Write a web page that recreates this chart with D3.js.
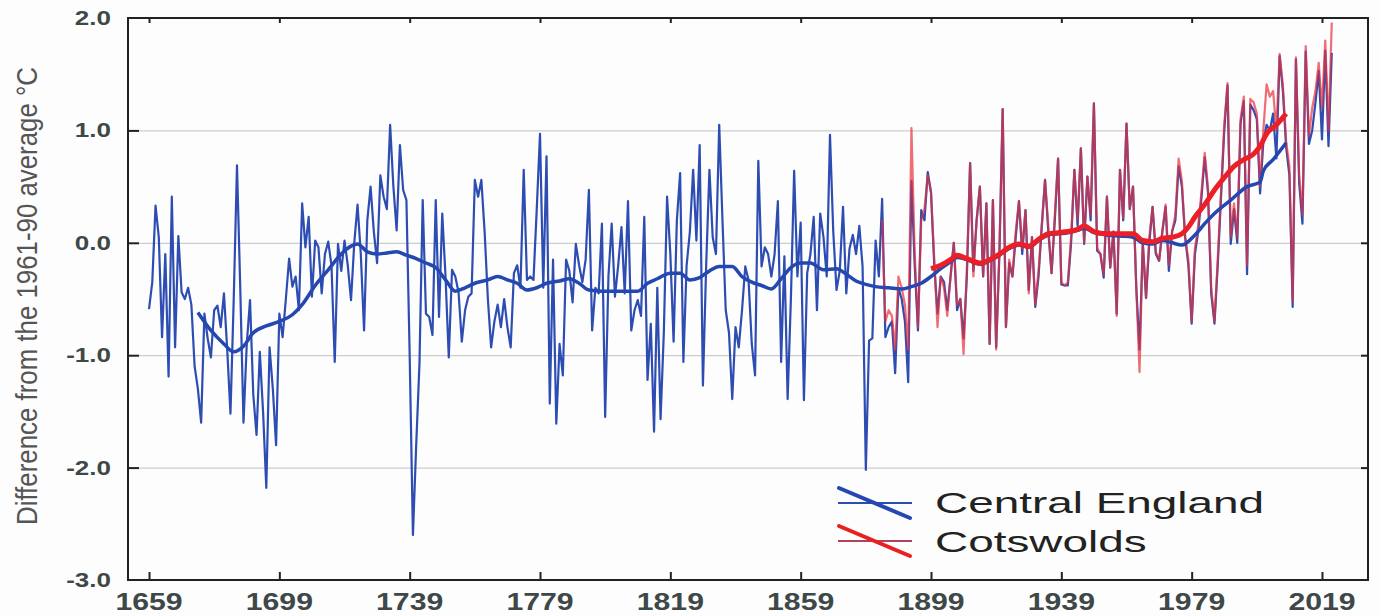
<!DOCTYPE html>
<html>
<head>
<meta charset="utf-8">
<script src="https://cdn.jsdelivr.net/npm/d3@7"></script>
<style>
  body { margin: 0; background: #fff; }
  text { font-family: "Liberation Sans", Arial, sans-serif; }
</style>
</head>
<body>
<div class="chart"></div>
<script>
// annual anomalies, difference from the 1961-90 average (degC)
const ceFirstYear = 1659;
const centralEngland = [
  -0.59,
  -0.35, 0.33, 0.05, -0.84, -0.10, -1.19, 0.41, -0.93, 0.06, -0.44,
  -0.50, -0.40, -0.55, -1.10, -1.30, -1.60, -0.63, -0.85, -1.02, -0.60,
  -0.56, -0.75, -0.45, -0.95, -1.52, -0.50, 0.69, -0.40, -1.60, -0.90,
  -0.51, -1.35, -1.71, -0.97, -1.50, -2.18, -0.93, -1.30, -1.80, -0.63,
  -0.84, -0.50, -0.14, -0.39, -0.30, -0.60, 0.35, -0.04, 0.23, -0.48,
  0.02, -0.04, -0.45, -0.10, 0.01, -0.20, -1.06, -0.01, -0.25, 0.02,
  -0.20, -0.51, 0.00, 0.34, -0.10, -0.78, 0.20, 0.50, 0.10, -0.18,
  0.60, 0.41, 0.30, 1.05, 0.50, 0.11, 0.87, 0.47, 0.38, -1.00,
  -2.60, -1.80, -1.08, 0.38, -0.63, -0.66, -0.82, 0.38, -0.66, 0.26,
  -0.30, -1.02, -0.24, -0.30, -0.44, -0.88, -0.60, -0.48, -0.45, 0.56,
  0.41, 0.56, 0.10, -0.50, -0.93, -0.70, -0.55, -0.75, -0.50, -0.75,
  -0.93, -0.27, -0.20, -0.40, 0.65, -0.33, -0.30, -0.33, 0.30, 0.97,
  -0.40, 0.77, -1.43, -0.15, -1.61, -0.90, -1.18, -0.15, -0.25, -0.53,
  -0.01, -0.20, -0.35, -0.15, 0.47, -0.78, -0.40, -0.45, 0.17, -1.55,
  -0.30, 0.17, -0.48, -0.20, 0.14, -0.45, 0.37, -0.78, -0.60, -0.51,
  -0.65, 0.23, -1.22, -0.72, -1.68, -0.40, -1.57, -0.80, 0.41, -0.10,
  -0.88, 0.20, 0.62, -1.06, -0.20, 0.10, 0.65, 0.02, 0.87, -1.27,
  -0.20, 0.65, 0.05, -0.10, 1.05, 0.20, -0.60, -0.80, -1.39, -0.75,
  -0.93, -0.60, -0.21, -0.33, -0.90, -1.18, 0.73, -0.21, -0.04, -0.10,
  -0.30, -0.10, 0.37, -1.06, -0.12, -1.39, -0.50, 0.64, -0.30, 0.18,
  -1.40, -0.27, -0.10, 0.23, -0.60, 0.26, 0.05, -0.30, 0.96, 0.10,
  -0.42, -0.25, 0.32, -0.45, -0.05, 0.07, -0.10, 0.15, -0.21, -2.02,
  -0.87, -0.85, 0.02, -0.30, 0.39, -0.84, -0.75, -0.70, -1.16, -0.40,
  -0.50, -0.70, -1.24, 0.55, -0.20, -0.78, 0.29, 0.20, 0.63, 0.45,
  -0.20, -0.63, -0.30, -0.35, -0.60, -0.30, 0.00, -0.60, -0.50, -0.85,
  -0.30, 0.71, -0.25, 0.20, 0.50, -0.30, 0.35, -0.90, 0.38, -0.93,
  -0.10, 1.19, -0.75, -0.18, -0.30, 0.05, 0.37, -0.10, 0.29, -0.42,
  0.05, -0.57, -0.30, 0.15, 0.56, 0.10, -0.27, 0.20, 0.75, -0.37,
  -0.38, -0.38, 0.00, 0.65, 0.15, 0.84, -0.01, 0.59, 0.20, 1.24,
  -0.07, -0.10, -0.31, 0.41, -0.22, 0.10, -0.63, 0.65, 0.20, 1.06,
  0.30, 0.50, -0.40, -0.95, 0.00, -0.49, 0.00, 0.32, -0.10, -0.16,
  0.10, 0.32, -0.25, 0.10, 0.20, 0.68, 0.50, 0.05, -0.20, -0.72,
  -0.10, 0.10, 0.40, 0.76, 0.45, -0.45, -0.72, -0.20, 0.40, 1.00,
  1.40, -0.01, 0.30, 0.00, 1.06, 1.26, -0.28, 1.23, 1.18, 1.10,
  0.44, 0.90, 1.05, 1.00, 1.15, 0.75, 1.66, 1.35, 0.85, 0.60,
  -0.57, 1.63, 0.53, 0.17, 1.70, 0.88, 1.00, 1.25, 1.53, 0.92,
  1.71, 0.86, 1.69
];

const cotsFirstYear = 1884;
const cotswolds = [
  0.20, -0.70, -0.60, -0.65, -0.95, -0.30,
  -0.40, -0.55, -0.95, 1.02, -0.10, -0.75, 0.20, 0.30, 0.60, 0.45,
  -0.15, -0.75, -0.30, -0.40, -0.65, -0.30, 0.00, -0.55, -0.50, -0.99,
  -0.25, 0.71, -0.30, 0.20, 0.50, -0.30, 0.35, -0.90, 0.38, -0.95,
  -0.05, 1.19, -0.75, -0.15, -0.30, 0.10, 0.37, -0.05, 0.29, -0.45,
  0.05, -0.55, -0.25, 0.15, 0.56, 0.15, -0.27, 0.25, 0.75, -0.35,
  -0.38, -0.35, 0.05, 0.65, 0.20, 0.84, 0.00, 0.59, 0.25, 1.24,
  -0.05, -0.10, -0.28, 0.41, -0.22, 0.10, -0.65, 0.65, 0.22, 1.06,
  0.30, 0.50, -0.40, -1.15, 0.00, -0.49, 0.05, 0.32, -0.08, -0.16,
  0.10, 0.34, -0.20, 0.10, 0.25, 0.75, 0.55, 0.05, -0.15, -0.70,
  -0.05, 0.15, 0.45, 0.80, 0.50, -0.40, -0.70, -0.15, 0.45, 1.05,
  1.42, 0.05, 0.35, 0.05, 1.10, 1.30, -0.20, 1.28, 1.25, 1.15,
  0.50, 1.00, 1.41, 1.30, 1.35, 1.00, 1.68, 1.40, 0.90, 0.68,
  -0.52, 1.65, 0.60, 0.25, 1.75, 0.95, 1.20, 1.35, 1.60, 1.20,
  1.80, 1.00, 1.96
];

// smoothed curves: [year, anomaly]
const ceSmooth = [
  [1674, -0.62], [1678, -0.78], [1682, -0.90], [1685, -0.97], [1688, -0.92],
  [1691, -0.80], [1695, -0.74], [1699, -0.70], [1703, -0.64], [1706, -0.55],
  [1710, -0.38], [1714, -0.24], [1718, -0.10], [1721, -0.03], [1723, -0.01],
  [1726, -0.08], [1729, -0.10], [1732, -0.09], [1735, -0.08], [1738, -0.11],
  [1741, -0.14], [1744, -0.18], [1747, -0.22], [1750, -0.33], [1753, -0.43],
  [1756, -0.40], [1759, -0.36], [1763, -0.33], [1766, -0.30], [1769, -0.33],
  [1772, -0.36], [1775, -0.42], [1778, -0.40], [1781, -0.36], [1785, -0.34],
  [1788, -0.32], [1791, -0.36], [1794, -0.42], [1798, -0.43], [1802, -0.43],
  [1806, -0.43], [1809, -0.43], [1812, -0.36], [1815, -0.32], [1819, -0.27],
  [1822, -0.27], [1825, -0.33], [1828, -0.31], [1831, -0.25], [1834, -0.21],
  [1838, -0.21], [1841, -0.30], [1844, -0.35], [1847, -0.38], [1850, -0.41],
  [1853, -0.32], [1856, -0.22], [1859, -0.18], [1862, -0.18], [1866, -0.24],
  [1870, -0.23], [1873, -0.28], [1876, -0.34], [1879, -0.37], [1882, -0.39],
  [1886, -0.40], [1890, -0.41], [1893, -0.39], [1896, -0.36], [1899, -0.30],
  [1902, -0.23], [1905, -0.17], [1907, -0.13], [1910, -0.15], [1914, -0.19],
  [1917, -0.16], [1920, -0.11], [1923, -0.05], [1926, -0.02], [1929, -0.04],
  [1932, 0.02], [1935, 0.07], [1938, 0.08], [1941, 0.09], [1944, 0.11],
  [1946, 0.13], [1949, 0.09], [1953, 0.07], [1957, 0.06], [1961, 0.05],
  [1964, 0.00], [1967, -0.01], [1970, 0.02], [1973, 0.00], [1976, -0.02],
  [1980, 0.07], [1983, 0.17], [1986, 0.26], [1991, 0.38], [1996, 0.50],
  [2000, 0.54], [2001, 0.64], [2004, 0.74], [2008, 0.89]
];
const cotsSmooth = [
  [1899, -0.23], [1902, -0.20], [1905, -0.15], [1907, -0.11], [1910, -0.14],
  [1914, -0.18], [1917, -0.15], [1920, -0.10], [1923, -0.04], [1926, -0.01],
  [1929, -0.03], [1932, 0.03], [1935, 0.08], [1938, 0.09], [1941, 0.10],
  [1944, 0.12], [1946, 0.15], [1949, 0.10], [1953, 0.08], [1957, 0.08],
  [1961, 0.08], [1964, 0.02], [1967, 0.01], [1970, 0.04], [1973, 0.05],
  [1976, 0.08], [1978, 0.14], [1980, 0.23], [1983, 0.34], [1986, 0.47],
  [1989, 0.58], [1992, 0.68], [1995, 0.74], [1998, 0.79], [2000, 0.86],
  [2002, 0.97], [2005, 1.05], [2008, 1.15]
];

const xTickYears = [1659, 1699, 1739, 1779, 1819, 1859, 1899, 1939, 1979, 2019];
const yTickValues = [-3, -2, -1, 0, 1, 2];
const seriesNames = ['Central England', 'Cotswolds'];

const W = 1381, H = 616;
const plot = { left: 128, right: 1368, top: 18, bottom: 580 };

const svg = d3.select('.chart').append('svg')
    .attr('width', W)
    .attr('height', H);

svg.append('rect').attr('width', W).attr('height', H).attr('fill', '#fdfdfd');

const xScale = d3.scaleLinear()
    .domain([1652.55, 2033.12])
    .range([plot.left, plot.right]);

const yScale = d3.scaleLinear()
    .domain([-3, 2])
    .range([plot.bottom, plot.top]);

const ceData = centralEngland.map((v, i) => ({ year: ceFirstYear + i, value: v }));
const cotsData = cotswolds.map((v, i) => ({ year: cotsFirstYear + i, value: v }));

// gridlines
svg.append('g')
    .attr('transform', `translate(${plot.left},0)`)
    .call(d3.axisLeft(yScale).tickValues([-2, -1, 0, 1])
        .tickSize(-(plot.right - plot.left)).tickFormat(''))
    .call(g => g.select('.domain').remove())
    .call(g => g.selectAll('line').attr('stroke', '#cdcdcd').attr('stroke-width', 1.3));

const rawLine = d3.line()
    .x(d => xScale(d.year))
    .y(d => yScale(d.value));

const smoothLine = d3.line()
    .x(d => xScale(d[0]))
    .y(d => yScale(d[1]))
    .curve(d3.curveMonotoneX);

svg.append('path')
    .datum(ceData)
    .attr('fill', 'none')
    .attr('stroke', '#2d4db2')
    .attr('stroke-width', 2.2)
    .attr('stroke-linejoin', 'round')
    .attr('d', rawLine);

svg.append('path')
    .datum(cotsData)
    .attr('fill', 'none')
    .attr('stroke', '#e8303c')
    .attr('stroke-opacity', 0.7)
    .attr('stroke-width', 2.2)
    .attr('stroke-linejoin', 'round')
    .attr('d', rawLine);

svg.append('path')
    .datum(ceSmooth)
    .attr('fill', 'none')
    .attr('stroke', '#2447b0')
    .attr('stroke-width', 3.5)
    .attr('d', smoothLine);

svg.append('path')
    .datum(cotsSmooth)
    .attr('fill', 'none')
    .attr('stroke', '#ec1f26')
    .attr('stroke-width', 5)
    .attr('d', smoothLine);

// frame
svg.append('rect')
    .attr('x', plot.left).attr('y', plot.top)
    .attr('width', plot.right - plot.left)
    .attr('height', plot.bottom - plot.top)
    .attr('fill', 'none')
    .attr('stroke', '#222')
    .attr('stroke-width', 2);

// inward ticks
const tickStyle = g => g.call(s => s.select('.domain').remove())
    .call(s => s.selectAll('line').attr('stroke', '#222').attr('stroke-width', 2))
    .call(s => s.selectAll('text').remove());

svg.append('g').attr('transform', `translate(0,${plot.bottom})`)
    .call(d3.axisBottom(xScale).tickValues(xTickYears).tickSize(-8)).call(tickStyle);
svg.append('g').attr('transform', `translate(0,${plot.top})`)
    .call(d3.axisTop(xScale).tickValues(xTickYears).tickSize(-5)).call(tickStyle);
svg.append('g').attr('transform', `translate(${plot.left},0)`)
    .call(d3.axisLeft(yScale).tickValues([-2, -1, 0, 1]).tickSize(-11)).call(tickStyle);
svg.append('g').attr('transform', `translate(${plot.right},0)`)
    .call(d3.axisRight(yScale).tickValues([-2, -1, 0, 1]).tickSize(-7)).call(tickStyle);

// tick labels (the source picture is stretched horizontally)
svg.append('g').selectAll('text')
    .data(xTickYears)
    .join('text')
    .attr('transform', d => `translate(${xScale(d)},610) scale(1.26,1)`)
    .attr('text-anchor', 'middle')
    .attr('font-size', 24)
    .attr('font-weight', 'bold')
    .attr('fill', '#3e4848')
    .text(d => d);

svg.append('g').selectAll('text')
    .data(yTickValues)
    .join('text')
    .attr('transform', d => `translate(111,${yScale(d) + 7}) scale(1.3,1)`)
    .attr('text-anchor', 'end')
    .attr('font-size', 20)
    .attr('font-weight', 'bold')
    .attr('fill', '#3e4848')
    .text(d => d.toFixed(1));

// y-axis title
svg.append('text')
    .attr('transform', 'translate(37,296) rotate(-90)')
    .attr('text-anchor', 'middle')
    .attr('font-size', 29)
    .attr('fill', '#555')
    .attr('textLength', 458)
    .attr('lengthAdjust', 'spacingAndGlyphs')
    .text('Difference from the 1961-90 average \u00B0C');

// legend
const legend = svg.append('g');
const legendRows = [
  { name: seriesNames[0], thin: '#2d4db2', thick: '#2447b0', y: 503, base: 513 },
  { name: seriesNames[1], thin: '#b2405e', thick: '#e8201f', y: 541, base: 552 }
];
legendRows.forEach(r => {
  legend.append('line')
      .attr('x1', 838).attr('x2', 912).attr('y1', r.y).attr('y2', r.y)
      .attr('stroke', r.thin).attr('stroke-width', 2);
  legend.append('line')
      .attr('x1', 839).attr('x2', 910).attr('y1', r.y - 15).attr('y2', r.y + 15)
      .attr('stroke', r.thick).attr('stroke-width', 4).attr('stroke-linecap', 'round');
  legend.append('text')
      .attr('transform', `translate(935,${r.base}) scale(1.53,1)`)
      .attr('font-size', 30)
      .attr('fill', '#222')
      .text(r.name);
});
</script>
</body>
</html>
